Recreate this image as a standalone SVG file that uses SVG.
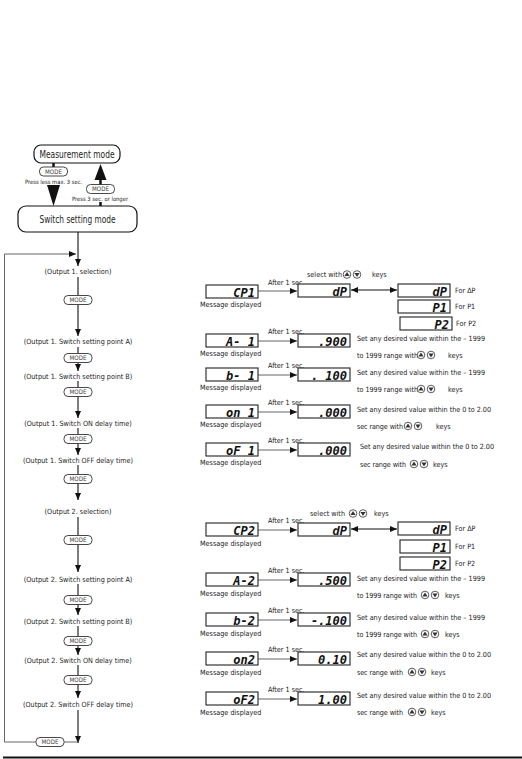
<svg xmlns="http://www.w3.org/2000/svg" xmlns:xlink="http://www.w3.org/1999/xlink" width="522" height="759" viewBox="0 0 522 759">
<style>
.t{font-family:"Liberation Sans Narrow","DejaVu Sans Condensed","Liberation Sans",sans-serif;font-size:7.2px;fill:#222}
.s{font-size:5.8px}
.c{text-anchor:middle}
.big{font-size:10px}
.box{fill:#fff;stroke:#111;stroke-width:1.2}
.rb{fill:#fff;stroke:#222;stroke-width:1.1}
.seg{font-family:"DejaVu Sans Mono","Liberation Mono",monospace;font-weight:bold;font-style:italic;font-size:12px;fill:#111;text-anchor:end}
.ln{fill:none;stroke:#111;stroke-width:1.1}
.gl{fill:none;stroke:#666;stroke-width:1}
.md{fill:#fff;stroke:#333;stroke-width:0.9}
.mt{font-family:"Liberation Sans Narrow","DejaVu Sans Condensed","Liberation Sans",sans-serif;font-size:6.2px;fill:#444;text-anchor:middle}
</style>
<defs>
<marker id="ah" markerUnits="userSpaceOnUse" markerWidth="8" markerHeight="6" refX="7" refY="3" orient="auto"><path d="M0,0 L7,3 L0,6 Z" fill="#111"/></marker>
<marker id="ahs" markerUnits="userSpaceOnUse" markerWidth="8" markerHeight="6" refX="1" refY="3" orient="auto"><path d="M8,0 L1,3 L8,6 Z" fill="#111"/></marker>
<g id="mode"><rect x="-14" y="-4.5" width="28" height="9" rx="4" class="md"/><text x="0" y="2.3" class="mt">MODE</text></g>
<g id="up"><circle r="3.8" fill="#fff" stroke="#333" stroke-width="0.8"/><path d="M-2.6,1.6 L0,-2.6 L2.6,1.6 Z" fill="#333"/></g>
<g id="dn"><circle r="3.8" fill="#fff" stroke="#333" stroke-width="0.8"/><path d="M-2.6,-1.6 L0,2.6 L2.6,-1.6 Z" fill="#333"/></g>
</defs>
<rect width="522" height="759" fill="#fff"/>

<g id="connectors">
<line x1="53.5" y1="163" x2="53.5" y2="168" stroke="#111" stroke-width="2.5"/>
<polygon points="47,185 60,185 53.5,206" fill="#111"/>
<polygon points="94.5,180 106.5,180 100.5,164" fill="#111"/>
<line x1="100.5" y1="180" x2="100.5" y2="185" stroke="#111" stroke-width="2.5"/>
<line x1="100.5" y1="202" x2="100.5" y2="206" stroke="#111" stroke-width="2.5"/>
<line x1="78" y1="232" x2="78" y2="266" class="ln" marker-end="url(#ah)"/>
<line x1="78" y1="277" x2="78" y2="295" class="ln"/>
<line x1="78" y1="305" x2="78" y2="336" class="ln" marker-end="url(#ah)"/>
<line x1="78" y1="347" x2="78" y2="353" class="ln"/>
<line x1="78" y1="363" x2="78" y2="371" class="ln" marker-end="url(#ah)"/>
<line x1="78" y1="381" x2="78" y2="387" class="ln"/>
<line x1="78" y1="397" x2="78" y2="418" class="ln" marker-end="url(#ah)"/>
<line x1="78" y1="428" x2="78" y2="434" class="ln"/>
<line x1="78" y1="444" x2="78" y2="455" class="ln" marker-end="url(#ah)"/>
<line x1="78" y1="465" x2="78" y2="474" class="ln"/>
<line x1="78" y1="484" x2="78" y2="500" class="ln" marker-end="url(#ah)"/>
<line x1="78" y1="517" x2="78" y2="535" class="ln"/>
<line x1="78" y1="545" x2="78" y2="572" class="ln" marker-end="url(#ah)"/>
<line x1="78" y1="584" x2="78" y2="595" class="ln"/>
<line x1="78" y1="605" x2="78" y2="615" class="ln" marker-end="url(#ah)"/>
<line x1="78" y1="626" x2="78" y2="636" class="ln"/>
<line x1="78" y1="646" x2="78" y2="655" class="ln" marker-end="url(#ah)"/>
<line x1="78" y1="665" x2="78" y2="675" class="ln"/>
<line x1="78" y1="685" x2="78" y2="698" class="ln" marker-end="url(#ah)"/>
<line x1="78" y1="710" x2="78" y2="743" class="ln" marker-end="url(#ah)"/>
<path d="M78,742 H64 M36,742 H4.5 V254 H76" class="gl" marker-end="url(#ah)"/>
<line x1="258" y1="291" x2="297" y2="291" class="gl" marker-end="url(#ah)"/>
<line x1="351" y1="290" x2="397" y2="290" class="ln" marker-start="url(#ahs)" marker-end="url(#ah)"/>
<line x1="258" y1="341" x2="297" y2="341" class="gl" marker-end="url(#ah)"/>
<line x1="258" y1="375" x2="297" y2="375" class="gl" marker-end="url(#ah)"/>
<line x1="258" y1="412" x2="297" y2="412" class="gl" marker-end="url(#ah)"/>
<line x1="258" y1="450" x2="297" y2="450" class="gl" marker-end="url(#ah)"/>
<line x1="258" y1="530" x2="297" y2="530" class="gl" marker-end="url(#ah)"/>
<line x1="351" y1="529" x2="397" y2="529" class="ln" marker-start="url(#ahs)" marker-end="url(#ah)"/>
<line x1="258" y1="580" x2="297" y2="580" class="gl" marker-end="url(#ah)"/>
<line x1="258" y1="620" x2="297" y2="620" class="gl" marker-end="url(#ah)"/>
<line x1="258" y1="659" x2="297" y2="659" class="gl" marker-end="url(#ah)"/>
<line x1="258" y1="699" x2="297" y2="699" class="gl" marker-end="url(#ah)"/>
</g>

<g id="measurement-mode"><rect x="34" y="145" width="86" height="18" rx="7" class="box"/><text x="77" y="157.5" class="t c big" textLength="75" lengthAdjust="spacingAndGlyphs">Measurement mode</text></g>
<g id="switch-setting-mode"><rect x="18" y="206" width="119" height="26" rx="8" class="box"/><text x="77.5" y="222.5" class="t c big" textLength="76" lengthAdjust="spacingAndGlyphs">Switch setting mode</text></g>
<g id="mode-top-left"><use xlink:href="#mode" x="53.5" y="171.5"/><text x="25" y="184" class="t s">Press less max. 3 sec.</text></g>
<g id="mode-top-right"><use xlink:href="#mode" x="100.5" y="189"/><text x="72" y="200.5" class="t s">Press 3 sec. or longer</text></g>

<g id="o1-sel"><text x="78" y="274" class="t c">(Output 1.  selection)</text></g>
<g id="m1"><use xlink:href="#mode" x="78" y="300"/></g>
<g id="o1-a"><text x="78" y="344" class="t c">(Output 1. Switch setting point A)</text></g>
<g id="m2"><use xlink:href="#mode" x="78" y="358"/></g>
<g id="o1-b"><text x="78" y="379" class="t c">(Output 1. Switch setting point B)</text></g>
<g id="m3"><use xlink:href="#mode" x="78" y="392"/></g>
<g id="o1-on"><text x="78" y="426" class="t c">(Output 1. Switch ON delay time)</text></g>
<g id="m4"><use xlink:href="#mode" x="78" y="439"/></g>
<g id="o1-off"><text x="78" y="463" class="t c">(Output 1. Switch OFF delay time)</text></g>
<g id="m5"><use xlink:href="#mode" x="78" y="479"/></g>
<g id="o2-sel"><text x="78" y="514" class="t c">(Output 2. selection)</text></g>
<g id="m6"><use xlink:href="#mode" x="78" y="540"/></g>
<g id="o2-a"><text x="78" y="582" class="t c">(Output 2. Switch setting point A)</text></g>
<g id="m7"><use xlink:href="#mode" x="78" y="600"/></g>
<g id="o2-b"><text x="78" y="624" class="t c">(Output 2. Switch setting point B)</text></g>
<g id="m8"><use xlink:href="#mode" x="78" y="641"/></g>
<g id="o2-on"><text x="78" y="663" class="t c">(Output 2. Switch ON delay time)</text></g>
<g id="m9"><use xlink:href="#mode" x="78" y="680"/></g>
<g id="o2-off"><text x="78" y="707" class="t c">(Output 2. Switch OFF delay time)</text></g>
<g id="m10"><use xlink:href="#mode" x="50" y="742"/></g>

<!-- Row 1 -->
<g id="cp1"><rect x="206" y="285" width="52" height="13" class="rb"/><text x="255" y="296.5" class="seg">CP1</text><text x="200" y="307" class="t">Message displayed</text></g>
<text x="268" y="285" class="t">After 1 sec.</text>
<g id="dp1"><rect x="298" y="284" width="52" height="13" class="rb"/><text x="347" y="295.5" class="seg">dP</text></g>
<g id="sel1"><text x="307" y="277" class="t">select with</text><use xlink:href="#up" x="347" y="274.5"/><use xlink:href="#dn" x="357" y="274.5"/><text x="372" y="277" class="t">keys</text></g>
<g id="dp1r"><rect x="398" y="284" width="52" height="13" class="rb"/><text x="447" y="295.5" class="seg">dP</text><text x="455" y="293" class="t">For ΔP</text></g>
<g id="p11"><rect x="398" y="300" width="52" height="13" class="rb"/><text x="447" y="311.5" class="seg">P1</text><text x="455" y="309" class="t">For P1</text></g>
<g id="p21"><rect x="400" y="317" width="52" height="13" class="rb"/><text x="449" y="328.5" class="seg">P2</text><text x="456" y="326" class="t">For P2</text></g>

<!-- Row 2 -->
<g id="a1"><rect x="206" y="334" width="52" height="13" class="rb"/><text x="255" y="345.5" class="seg">A- 1</text><text x="200" y="356" class="t">Message displayed</text></g>
<text x="268" y="334" class="t">After 1 sec.</text>
<g id="v900"><rect x="298" y="334" width="52" height="13" class="rb"/><text x="347" y="345.5" class="seg">.900</text></g>
<g id="t2"><text x="357" y="341" class="t" textLength="128">Set any desired value within the – 1999</text><text x="357" y="358" class="t" textLength="61">to 1999 range with</text><use xlink:href="#up" x="421" y="355"/><use xlink:href="#dn" x="431" y="355"/><text x="448" y="358" class="t">keys</text></g>

<!-- Row 3 -->
<g id="b1"><rect x="206" y="368" width="52" height="13" class="rb"/><text x="255" y="379.5" class="seg">b- 1</text><text x="200" y="390" class="t">Message displayed</text></g>
<text x="268" y="368" class="t">After 1 sec.</text>
<g id="v100"><rect x="298" y="368" width="52" height="13" class="rb"/><text x="347" y="379.5" class="seg">. 100</text></g>
<g id="t3"><text x="357" y="375" class="t" textLength="128">Set any desired value within the – 1999</text><text x="357" y="392" class="t" textLength="61">to 1999 range with</text><use xlink:href="#up" x="421" y="389"/><use xlink:href="#dn" x="431" y="389"/><text x="448" y="392" class="t">keys</text></g>

<!-- Row 4 -->
<g id="on1"><rect x="206" y="405" width="52" height="13" class="rb"/><text x="255" y="416.5" class="seg">on 1</text><text x="200" y="427" class="t">Message displayed</text></g>
<text x="268" y="405" class="t">After 1 sec.</text>
<g id="v000a"><rect x="298" y="405" width="52" height="13" class="rb"/><text x="347" y="416.5" class="seg">.000</text></g>
<g id="t4"><text x="357" y="412" class="t" textLength="134">Set any desired value within the 0 to 2.00</text><text x="357" y="429" class="t" textLength="46">sec range with</text><use xlink:href="#up" x="408" y="426"/><use xlink:href="#dn" x="418" y="426"/><text x="436" y="429" class="t">keys</text></g>

<!-- Row 5 -->
<g id="of1"><rect x="206" y="443" width="52" height="13" class="rb"/><text x="255" y="454.5" class="seg">oF 1</text><text x="200" y="465" class="t">Message displayed</text></g>
<text x="268" y="443" class="t">After 1 sec.</text>
<g id="v000b"><rect x="298" y="443" width="52" height="13" class="rb"/><text x="347" y="454.5" class="seg">.000</text></g>
<g id="t5"><text x="360" y="449" class="t" textLength="134">Set any desired value within the 0 to 2.00</text><text x="360" y="467" class="t" textLength="46">sec range with</text><use xlink:href="#up" x="414" y="464"/><use xlink:href="#dn" x="424" y="464"/><text x="433" y="467" class="t">keys</text></g>

<!-- Row 6 -->
<g id="cp2"><rect x="206" y="523" width="52" height="13" class="rb"/><text x="255" y="534.5" class="seg">CP2</text><text x="200" y="546" class="t">Message displayed</text></g>
<text x="268" y="523" class="t">After 1 sec.</text>
<g id="dp2"><rect x="298" y="523" width="52" height="13" class="rb"/><text x="347" y="534.5" class="seg">dP</text></g>
<g id="sel2"><text x="310" y="516" class="t">select with</text><use xlink:href="#up" x="353" y="513.5"/><use xlink:href="#dn" x="363" y="513.5"/><text x="374" y="516" class="t">keys</text></g>
<g id="dp2r"><rect x="398" y="522" width="52" height="13" class="rb"/><text x="447" y="533.5" class="seg">dP</text><text x="455" y="531" class="t">For ΔP</text></g>
<g id="p12"><rect x="400" y="540" width="50" height="13" class="rb"/><text x="447" y="551.5" class="seg">P1</text><text x="455" y="549" class="t">For P1</text></g>
<g id="p22"><rect x="400" y="557" width="50" height="13" class="rb"/><text x="447" y="568.5" class="seg">P2</text><text x="455" y="566" class="t">For P2</text></g>

<!-- Row 7 -->
<g id="a2"><rect x="206" y="573" width="52" height="13" class="rb"/><text x="255" y="584.5" class="seg">A-2</text><text x="200" y="596" class="t">Message displayed</text></g>
<text x="268" y="573" class="t">After 1 sec.</text>
<g id="v500"><rect x="298" y="573" width="52" height="13" class="rb"/><text x="347" y="584.5" class="seg">.500</text></g>
<g id="t7"><text x="357" y="581" class="t" textLength="128">Set any desired value within the – 1999</text><text x="357" y="598" class="t" textLength="60">to 1999 range with</text><use xlink:href="#up" x="425" y="595"/><use xlink:href="#dn" x="435" y="595"/><text x="445" y="598" class="t">keys</text></g>

<!-- Row 8 -->
<g id="b2"><rect x="206" y="613" width="52" height="13" class="rb"/><text x="255" y="624.5" class="seg">b-2</text><text x="200" y="636" class="t">Message displayed</text></g>
<text x="268" y="613" class="t">After 1 sec.</text>
<g id="vm100"><rect x="298" y="613" width="52" height="13" class="rb"/><text x="347" y="624.5" class="seg">-.100</text></g>
<g id="t8"><text x="357" y="620" class="t" textLength="128">Set any desired value within the – 1999</text><text x="357" y="637" class="t" textLength="60">to 1999 range with</text><use xlink:href="#up" x="425" y="634"/><use xlink:href="#dn" x="435" y="634"/><text x="445" y="637" class="t">keys</text></g>

<!-- Row 9 -->
<g id="on2"><rect x="206" y="652" width="52" height="13" class="rb"/><text x="255" y="663.5" class="seg">on2</text><text x="200" y="675" class="t">Message displayed</text></g>
<text x="268" y="652" class="t">After 1 sec.</text>
<g id="v010"><rect x="298" y="652" width="52" height="13" class="rb"/><text x="347" y="663.5" class="seg">0.10</text></g>
<g id="t9"><text x="357" y="657" class="t" textLength="134">Set any desired value within the 0 to 2.00</text><text x="357" y="675" class="t" textLength="46">sec range with</text><use xlink:href="#up" x="412" y="672"/><use xlink:href="#dn" x="422" y="672"/><text x="431" y="675" class="t">keys</text></g>

<!-- Row 10 -->
<g id="of2"><rect x="206" y="692" width="52" height="13" class="rb"/><text x="255" y="703.5" class="seg">oF2</text><text x="200" y="715" class="t">Message displayed</text></g>
<text x="268" y="692" class="t">After 1 sec.</text>
<g id="v100b"><rect x="298" y="692" width="52" height="13" class="rb"/><text x="347" y="703.5" class="seg">1.00</text></g>
<g id="t10"><text x="357" y="698" class="t" textLength="134">Set any desired value within the 0 to 2.00</text><text x="357" y="715" class="t" textLength="46">sec range with</text><use xlink:href="#up" x="412" y="712"/><use xlink:href="#dn" x="422" y="712"/><text x="431" y="715" class="t">keys</text></g>

<line x1="3" y1="757.5" x2="522" y2="757.5" stroke="#111" stroke-width="2"/>
</svg>
